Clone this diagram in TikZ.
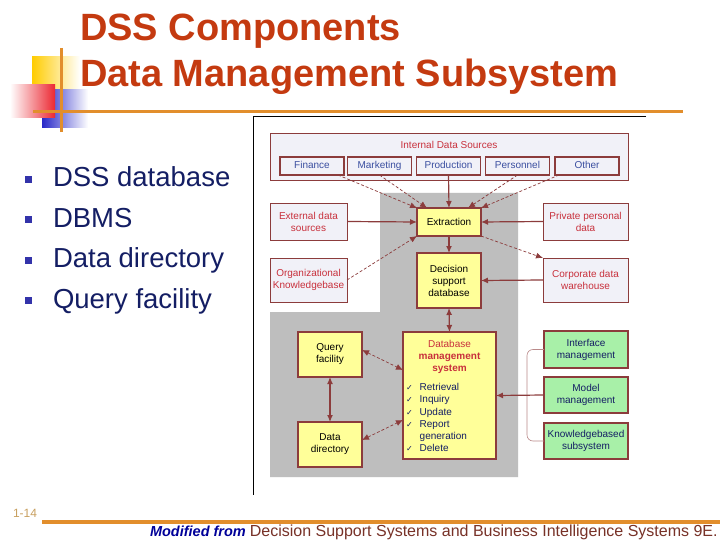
\documentclass[tikz,border=0pt]{standalone}
\usepackage{fontspec}
\setmainfont{Liberation Sans}
\newfontfamily\checkfont{DejaVu Sans}
\usetikzlibrary{calc,arrows.meta,positioning}
\definecolor{titlered}{RGB}{196,58,16}
\definecolor{brick}{RGB}{140,60,60}
\definecolor{srcred}{RGB}{200,48,60}
\definecolor{srcblue}{RGB}{58,78,160}
\definecolor{navy}{RGB}{20,30,100}
\definecolor{paleblue}{RGB}{241,241,248}
\definecolor{paleyellow}{RGB}{255,255,153}
\definecolor{palegreen}{RGB}{168,240,168}
\definecolor{bggray}{RGB}{190,190,190}
\definecolor{slideorange}{RGB}{226,142,44}
\definecolor{bulletblue}{RGB}{51,51,170}
\definecolor{pagenum}{RGB}{200,160,96}
\definecolor{footbrown}{RGB}{120,50,40}
\definecolor{decoyellow}{RGB}{255,204,0}
\definecolor{decoblue}{RGB}{40,40,200}
\definecolor{decored}{RGB}{235,40,50}

\begin{document}
\begin{tikzpicture}[x=1pt,y=-1pt,
  every node/.style={inner sep=0pt,outer sep=0pt},
  titletxt/.style={font=\fontsize{38}{40}\selectfont\bfseries,text=titlered,anchor=base west},
  bultxt/.style={font=\fontsize{27.5}{30}\selectfont,text=navy,anchor=base west},
  bullet/.style={fill=bulletblue,minimum size=7pt},
  small/.style={font=\fontsize{10}{12}\selectfont,align=center},
  srcbox/.style={small,draw=brick,line width=0.9pt,fill=paleblue,text=srcred},
  subbox/.style={small,draw=brick,line width=1.4pt,fill=paleblue,text=srcblue,minimum width=64pt,minimum height=18pt,text height=7.2pt,text depth=2pt},
  ybox/.style={small,draw=brick,line width=1.8pt,fill=paleyellow},
  gbox/.style={small,draw=brick,line width=1.4pt,fill=palegreen,text=navy,minimum width=84pt,minimum height=36pt},
  arr/.style={draw=brick,line width=1.2pt,-{Latex[length=7pt,width=6pt]}},
  darr/.style={draw=brick,line width=0.7pt,dash pattern=on 3pt off 2pt,-{Latex[length=7pt,width=6pt]}},
  biarr/.style={draw=brick,line width=1.2pt,{Latex[length=7pt,width=6pt]}-{Latex[length=7pt,width=6pt]}},
  bidarr/.style={draw=brick,line width=0.7pt,dash pattern=on 3pt off 2pt,{Latex[length=7pt,width=6pt]}-{Latex[length=7pt,width=6pt]}}]
\useasboundingbox[fill=white] (0,0) rectangle (720,540);

\shade[left color=decoyellow,middle color=decoyellow,right color=white] (32,57) rectangle (80,90);
\shade[left color=decoblue,middle color=decoblue!85,right color=white] (42,90) rectangle (88,128);
\shade[left color=white,right color=decored] (10,85) rectangle (55,118);
\draw[slideorange,line width=3pt] (61,48) -- (61,132);
\draw[slideorange,line width=3pt] (33,112) -- (683,112);

\node[titletxt] (title1) at (80,41) {DSS Components};
\node[titletxt] (title2) at (80,87) {Data Management Subsystem};

\foreach \txt [count=\i] in {DSS database,DBMS,Data directory,Query facility} {
  \node[bullet] (b\i) at (28.5,{179.5+40.4*(\i-1)}) {};
  \node[bultxt] (t\i) at (53,{187+40.4*(\i-1)}) {\txt};
}

\draw[line width=1pt] (646,117) -- (253,117) -- (253,495);
\fill[bggray] (380,193) -- (518,193) -- (518,477) -- (270,477) -- (270,312) -- (380,312) -- cycle;

\node[srcbox,minimum width=358pt,minimum height=47pt,line width=0.7pt,
  label={[small,text=srcred,anchor=north,yshift=-8pt]north:Internal Data Sources}] (intsrc) at (449,156.5) {};
\node[subbox] (fin) at (312,166) {Finance};
\node[subbox] (mkt) at (379.5,166) {Marketing};
\node[subbox] (prd) at (448.5,166) {Production};
\node[subbox] (per) at (517.5,166) {Personnel};
\node[subbox] (oth) at (587,166) {Other};

\node[ybox,minimum width=64pt,minimum height=28pt] (ext) at (449,222) {Extraction};
\node[ybox,minimum width=64pt,minimum height=55pt] (dsdb) at (449,280.5) {Decision\\support\\database};
\node[srcbox,minimum width=77pt,minimum height=37pt] (exds) at (308.5,221.5) {External data\\sources};
\node[srcbox,minimum width=77pt,minimum height=44pt] (org) at (308.5,280) {Organizational\\Knowledgebase};
\node[srcbox,minimum width=85pt,minimum height=37pt] (priv) at (585.5,221.5) {Private personal\\data};
\node[srcbox,minimum width=85pt,minimum height=44pt] (corp) at (585.5,280) {Corporate data\\warehouse};

\node[ybox,minimum width=64pt,minimum height=45pt] (qry) at (330,354.5) {Query\\facility};
\node[ybox,minimum width=64pt,minimum height=45pt] (ddir) at (330,444.5) {Data\\directory};
\node[ybox,minimum width=93pt,minimum height=127pt] (dbms) at (449.5,395.5) {};
\node[small,text=srcred,anchor=north] (dbmshead) at ([yshift=-8pt]dbms.north)
  {Database\\\textbf{management}\\\textbf{system}};
\node[small,text=navy,anchor=north west] (dbmslist) at (406,382) {%
  \renewcommand{\arraystretch}{1.02}%
  \begin{tabular}{@{}l@{\hspace{7pt}}l@{}}
  {\checkfont\fontsize{8}{10}\selectfont ✓} & Retrieval\\
  {\checkfont\fontsize{8}{10}\selectfont ✓} & Inquiry\\
  {\checkfont\fontsize{8}{10}\selectfont ✓} & Update\\
  {\checkfont\fontsize{8}{10}\selectfont ✓} & Report\\
  & generation\\
  {\checkfont\fontsize{8}{10}\selectfont ✓} & Delete
  \end{tabular}};

\node[gbox,minimum height=37pt] (ifc) at (586,349.5) {Interface\\management};
\node[gbox] (mdl) at (586,395) {Model\\management};
\node[gbox] (kbs) at (586,441) {Knowledgebased\\subsystem};

\draw[darr] ([xshift=-6pt]fin.south east) -- (ext.north west);
\draw[darr] (mkt.south) -- ([xshift=10pt]ext.north west);
\draw[arr] (prd.south) -- (ext.north);
\draw[darr] (per.south) -- ([xshift=-13pt]ext.north east);
\draw[darr] ([xshift=4pt]oth.south west) -- (ext.north east);
\draw[arr] (exds.east) -- (ext.west);
\draw[arr] (priv.west) -- (ext.east);
\draw[darr] (org.east) -- (ext.south west);
\draw[darr] (ext.south east) -- (corp.north west);
\draw[arr] (ext.south) -- (dsdb.north);
\draw[arr] (corp.west) -- (dsdb.east);
\draw[biarr] (dsdb.south) -- (dbms.north);
\draw[bidarr] ([yshift=4.5pt]qry.east) -- ([yshift=25.5pt]dbms.west);
\draw[bidarr] ([yshift=4.5pt]ddir.east) -- ([yshift=-24.5pt]dbms.west);
\draw[biarr] (qry.south) -- (ddir.north);
\draw[draw=brick!60,line width=0.6pt,rounded corners=6pt] (ifc.west) -| ([xshift=-17pt]mdl.west) |- (kbs.west);
\draw[arr] (mdl.west) -- (dbms.east);

\node[font=\fontsize{12}{14}\selectfont,text=pagenum,anchor=base west] (pg) at (13,517) {1-14};
\draw[slideorange,line width=4pt] (42,522) -- (720,522);
\node[font=\fontsize{14.5}{16}\selectfont\bfseries\itshape,text=blue!60!black,anchor=base west] (mod) at (150,536) {Modified from};
\node[font=\fontsize{16}{18}\selectfont,text=footbrown,anchor=base west] (cite) at ([xshift=4pt]mod.base east) {Decision Support Systems and Business Intelligence Systems 9E.};
\end{tikzpicture}
\end{document}
